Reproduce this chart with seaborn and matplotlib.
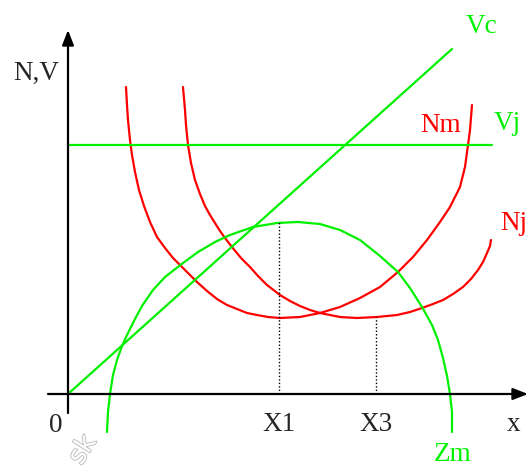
"""Schematic: curves N and V against x, with Zm and the minima X1, X3."""

import matplotlib.pyplot as plt
import matplotlib.patheffects as pe
import pandas as pd
import seaborn as sns

# values (origin at the axes crossing)
nm_x = [58, 59, 60, 62, 64, 67, 71, 76, 82, 89, 97, 105, 114, 122, 129, 139,
        149, 159, 169, 179, 189, 200, 212, 232, 252, 272, 292, 312, 330, 345,
        359, 372, 382, 392, 397, 400, 402, 404]
nm_y = [307, 289, 274, 254, 239, 222, 204, 188, 172, 157, 146, 136, 127, 119,
        112, 103, 95, 89, 85, 81, 79, 77, 76, 77, 81, 87, 96, 107, 122, 137,
        154, 172, 187, 207, 227, 249, 264, 289]

nj_x = [115, 117, 118, 120, 123, 127, 132, 137, 142, 147, 152, 157, 164, 173,
        182, 190, 199, 212, 222, 232, 242, 252, 272, 289, 309, 329, 342, 354,
        365, 375, 385, 395, 403, 410, 415, 419, 422, 423]
nj_y = [307, 284, 269, 249, 231, 214, 200, 188, 179, 171, 163, 156, 147, 136,
        127, 118, 109, 99, 93, 88, 84, 81, 77, 76, 77, 79, 82, 86,
        90, 94, 100, 107, 115, 124, 132, 141, 148, 154]

zm_x = [39, 40, 42, 45, 49, 54, 60, 67, 74, 85, 97, 115, 130, 147, 162, 185,
        209, 230, 252, 272, 292, 312, 330, 342, 354, 364, 370, 375, 379, 382,
        384, 384]
zm_y = [-38, -18, 0, 19, 34, 48, 61, 75, 88, 104, 117, 131, 142, 152, 159, 167,
        171, 172, 170, 164, 154, 138, 122, 106, 87, 69, 54, 36, 18, 0,
        -18, -38]

vc_x = [0, 384]
vc_y = [0, 345]
vj_x = [0, 424]
vj_y = [249, 249]

x_marks = ["X1", "X3"]
x_mark_pos = [211, 308]
x_mark_top = [172, 77]

RED = "#ff0000"
GREEN = "#00f000"

curves = pd.concat([
    pd.DataFrame({"x": nm_x, "y": nm_y, "curve": "Nm"}),
    pd.DataFrame({"x": nj_x, "y": nj_y, "curve": "Nj"}),
    pd.DataFrame({"x": zm_x, "y": zm_y, "curve": "Zm"}),
    pd.DataFrame({"x": vc_x, "y": vc_y, "curve": "Vc"}),
    pd.DataFrame({"x": vj_x, "y": vj_y, "curve": "Vj"}),
], ignore_index=True)
palette = {"Nm": RED, "Nj": RED, "Zm": GREEN, "Vc": GREEN, "Vj": GREEN}

sns.set_style("white")
plt.rcParams["font.family"] = ["Liberation Serif", "DejaVu Serif"]

fig = plt.figure(figsize=(5.28, 4.68), dpi=100)
ax = fig.add_axes([0, 0, 1, 1])
ax.set_xlim(-68, 460)
ax.set_ylim(-74, 394)
ax.axis("off")

# axes with arrows
arrow = dict(arrowstyle="-|>,head_length=0.9,head_width=0.35", color="black",
             lw=1.6, shrinkA=0, shrinkB=0)
ax.annotate("", xy=(460, 0), xytext=(-20, 0), arrowprops=arrow)
ax.annotate("", xy=(0, 364), xytext=(0, -19), arrowprops=arrow)

sns.lineplot(data=curves, x="x", y="y", hue="curve", units="curve",
             estimator=None, sort=False, palette=palette, linewidth=1.6,
             legend=False, ax=ax, solid_joinstyle="round")

# dotted drop lines at the peak and the minimum
for pos, top in zip(x_mark_pos, x_mark_top):
    ax.plot([pos, pos], [0, top], color="black", lw=1.0, ls=(0, (1, 1.5)))

fs = 19.5
ax.text(-32, 321, "N,V", fontsize=fs, ha="center", va="center")
ax.text(-12, -38, "0", fontsize=fs, ha="center", va="baseline")
for name, pos in zip(x_marks, x_mark_pos):
    ax.text(pos, -37, name, fontsize=fs, ha="center", va="baseline")
ax.text(446, -37, "x", fontsize=fs, ha="center", va="baseline")

ax.text(385, -67, "Zm", fontsize=fs, color=GREEN, ha="center", va="baseline")
ax.text(413, 361, "Vc", fontsize=fs, color=GREEN, ha="center", va="baseline")
ax.text(439, 264, "Vj", fontsize=fs, color=GREEN, ha="center", va="baseline")
ax.text(373, 262, "Nm", fontsize=fs, color=RED, ha="center", va="baseline")
ax.text(446, 164, "Nj", fontsize=fs, color=RED, ha="center", va="baseline")

# faint watermark
ax.text(15, -56, "sk", fontsize=19, rotation=58, color="white",
        family=["DejaVu Sans"], ha="center", va="center",
        path_effects=[pe.withStroke(linewidth=1.3, foreground="#bdbdbd")])

fig.savefig("out.png", dpi=100)
